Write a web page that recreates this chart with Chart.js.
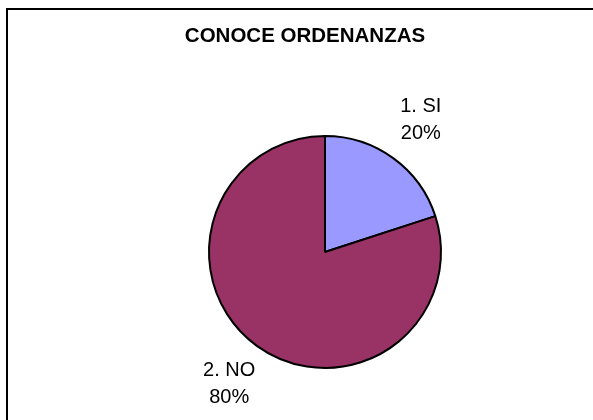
<!DOCTYPE html>
<html>
<head>
<meta charset="utf-8">
<script src="https://cdn.jsdelivr.net/npm/chart.js@4/dist/chart.umd.min.js"></script>
<style>
html,body{margin:0;padding:0;background:#fff;}
canvas{display:block;}
</style>
</head>
<body>
<canvas id="c" width="593" height="420"></canvas>
<script>
const chartTitle = "CONOCE ORDENANZAS";
const categories = ["1. SI", "2. NO"];
const values = [20, 80];
const sliceColors = ["#9999FF", "#993366"];

const framePlugin = {
  id: "frame",
  beforeDraw(chart) {
    const ctx = chart.ctx;
    ctx.save();
    ctx.fillStyle = "#fff";
    ctx.fillRect(0, 0, chart.width, chart.height);
    ctx.strokeStyle = "#000";
    ctx.lineWidth = 2;
    ctx.beginPath();
    ctx.moveTo(7, chart.height + 5);
    ctx.lineTo(7, 9);
    ctx.lineTo(chart.width + 5, 9);
    ctx.stroke();
    ctx.font = "bold 20.5px 'Liberation Sans', Arial, sans-serif";
    ctx.fillStyle = "#000";
    ctx.textAlign = "center";
    ctx.textBaseline = "alphabetic";
    ctx.fillText(chartTitle, 305, 42);
    ctx.restore();
  }
};

const labelPlugin = {
  id: "sliceLabels",
  afterDatasetsDraw(chart) {
    const ctx = chart.ctx;
    const meta = chart.getDatasetMeta(0);
    const total = values.reduce((a, b) => a + b, 0);
    ctx.save();
    ctx.font = "20px 'Liberation Sans', Arial, sans-serif";
    ctx.fillStyle = "#000";
    ctx.textAlign = "center";
    ctx.textBaseline = "middle";
    meta.data.forEach((arc, i) => {
      const p = arc.getProps(["x", "y", "startAngle", "endAngle", "outerRadius"], true);
      const mid = (p.startAngle + p.endAngle) / 2;
      const d = p.outerRadius * 1.405;
      const lx = p.x + Math.cos(mid) * d;
      const ly = p.y + Math.sin(mid) * d;
      const pct = Math.round(values[i] / total * 100) + "%";
      ctx.fillText(categories[i], lx, ly - 13.5);
      ctx.fillText(pct, lx, ly + 13.5);
    });
    ctx.restore();
  }
};

new Chart(document.getElementById("c"), {
  type: "pie",
  data: {
    labels: categories,
    datasets: [{
      data: values,
      backgroundColor: sliceColors,
      borderColor: "#000",
      borderWidth: 2
    }]
  },
  options: {
    responsive: false,
    animation: false,
    devicePixelRatio: 1,
    layout: { padding: { left: 208, right: 151, top: 135, bottom: 51 } },
    plugins: {
      legend: { display: false },
      tooltip: { enabled: false },
      title: { display: false }
    }
  },
  plugins: [framePlugin, labelPlugin]
});
</script>
</body>
</html>
